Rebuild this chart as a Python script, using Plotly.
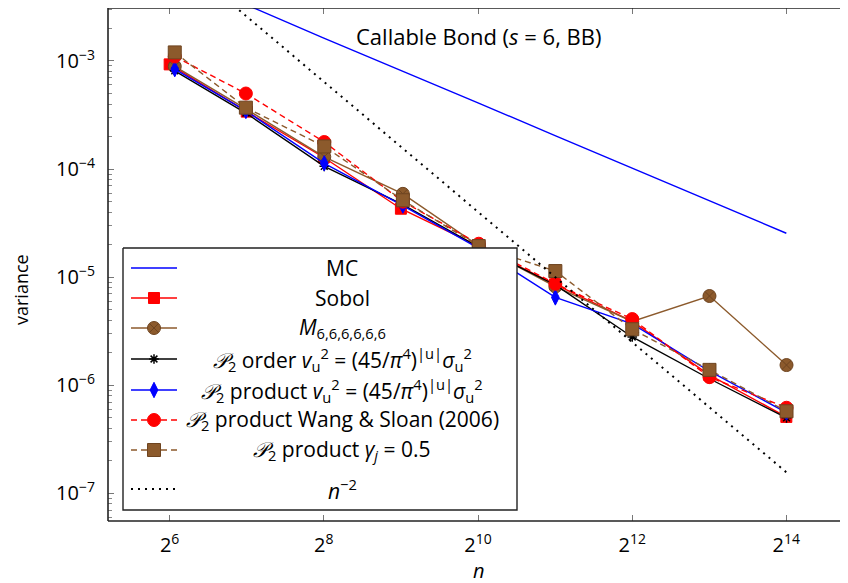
import math
import plotly.graph_objects as go

# ---------------- data ----------------
n_sobol = [64, 128, 256, 512, 1024, 2048, 4096, 8192, 16384]
n_lattice = [67, 127, 257, 521, 1031, 2053, 4099, 8209, 16411]

mc = [6.5e-3, 3.3e-3, 1.63e-3, 8.2e-4, 4.1e-4, 2.04e-4, 1.02e-4, 5.1e-5, 2.55e-5]
sobol = [9.3e-4, 3.4e-4, 1.28e-4, 4.3e-5, 1.95e-5, 8.6e-6, 3.9e-6, 1.25e-6, 5.1e-7]
m6 = [8.9e-4, 3.6e-4, 1.3e-4, 5.9e-5, 1.95e-5, 8.2e-6, 3.9e-6, 6.7e-6, 1.54e-6]
p2_order = [8.1e-4, 3.3e-4, 1.06e-4, 4.7e-5, 1.9e-5, 8.5e-6, 2.8e-6, 1.15e-6, 5.0e-7]
p2_product = [8.4e-4, 3.45e-4, 1.13e-4, 4.6e-5, 1.85e-5, 6.5e-6, 3.7e-6, 1.35e-6, 5.6e-7]
wang_sloan = [1.1e-3, 5.0e-4, 1.78e-4, 5.0e-5, 2.04e-5, 8.7e-6, 4.1e-6, 1.19e-6, 6.2e-7]
gamma05 = [1.2e-3, 3.7e-4, 1.62e-4, 5.15e-5, 1.94e-5, 1.14e-5, 3.3e-6, 1.39e-6, 5.75e-7]
n_minus2 = [1.03e-2, 2.57e-3, 6.4e-4, 1.6e-4, 4.0e-5, 1.0e-5, 2.5e-6, 6.3e-7, 1.57e-7]

x_tickvals = [64, 256, 1024, 4096, 16384]
x_ticktext = ["2<sup>6</sup>", "2<sup>8</sup>", "2<sup>10</sup>", "2<sup>12</sup>", "2<sup>14</sup>"]
y_tickvals = [1e-7, 1e-6, 1e-5, 1e-4, 1e-3]
y_ticktext = ["10<sup>−7</sup>", "10<sup>−6</sup>", "10<sup>−5</sup>", "10<sup>−4</sup>", "10<sup>−3</sup>"]
y_minor = [m * 10.0 ** e for e in range(-8, -2) for m in range(2, 10)]

legend_labels = [
    "MC",
    "Sobol",
    "<i>M</i><sub>6,6,6,6,6,6</sub>",
    "<i>𝒫</i><sub>2</sub> order <i>v</i><sub>u</sub><sup>2</sup> = (45/<i>π</i><sup>4</sup>)<sup>|u|</sup><i>σ</i><sub>u</sub><sup>2</sup>",
    "<i>𝒫</i><sub>2</sub> product <i>v</i><sub>u</sub><sup>2</sup> = (45/<i>π</i><sup>4</sup>)<sup>|u|</sup><i>σ</i><sub>u</sub><sup>2</sup>",
    "<i>𝒫</i><sub>2</sub> product Wang &amp; Sloan (2006)",
    "<i>𝒫</i><sub>2</sub> product <i>γ</i><sub><i>j</i></sub> = 0.5",
    "<i>n</i><sup>−2</sup>",
]

# ---------------- styles ----------------
RED = "#ff0000"
BLUE = "#0000ff"
BROWN = "#8c5a2c"
BROWN_DARK = "#6e4420"
FONT = "Open Sans"

styles = [
    dict(color=BLUE, dash="solid", symbol=None),
    dict(color=RED, dash="solid", symbol="square", size=11, mcolor=RED, mline=RED),
    dict(color=BROWN, dash="solid", symbol="circle-x", size=13, mcolor=BROWN, mline=BROWN_DARK),
    dict(color="black", dash="solid", symbol="asterisk-open", size=8, mcolor="black", mline="black"),
    dict(color=BLUE, dash="solid", symbol="diamond-tall", size=11, mcolor=BLUE, mline=BLUE),
    dict(color=RED, dash="6px,4px", symbol="circle", size=13, mcolor=RED, mline=RED),
    dict(color=BROWN, dash="6px,4px", symbol="square", size=13, mcolor=BROWN, mline=BROWN_DARK),
    dict(color="black", dash="2px,5px", symbol=None, width=2),
]

series = [
    (n_sobol, mc),
    (n_sobol, sobol),
    (n_lattice, m6),
    (n_lattice, p2_order),
    (n_lattice, p2_product),
    (n_lattice, wang_sloan),
    (n_lattice, gamma05),
    (n_sobol, n_minus2),
]

# page geometry (the page body has an 8px margin, so the figure is offset by 8px)
OFF = 8
W, H = 848 - OFF, 583 - OFF
# plot area in page pixels
L, R, T, B = 108, 848, 8, 521

fig = go.Figure()


def marker_dict(st):
    if st["symbol"] is None:
        return None
    return dict(symbol=st["symbol"], size=st["size"], color=st["mcolor"],
                line=dict(color=st["mline"], width=1.5 if "asterisk" in st["symbol"] else 1))


for (xs, ys), st in zip(series, styles):
    mode = "lines" if st["symbol"] is None else "lines+markers"
    fig.add_trace(go.Scatter(
        x=xs, y=ys, mode=mode,
        line=dict(color=st["color"], width=st.get("width", 1.4), dash=st["dash"]),
        marker=marker_dict(st),
        showlegend=False, cliponaxis=True, hoverinfo="skip",
    ))

# ---------------- legend drawn on an overlay axis in page pixel coords ----------------
lg_left, lg_right, lg_top, lg_bot = 123, 517, 248, 510
row_y = [268, 298, 328, 359, 390, 420, 450, 489]
sample_x0, sample_x1 = 131, 177
text_cx = 342

fig.add_trace(go.Scatter(
    x=[lg_left, lg_right, lg_right, lg_left, lg_left],
    y=[lg_top, lg_top, lg_bot, lg_bot, lg_top],
    xaxis="x2", yaxis="y2", mode="lines", fill="toself",
    fillcolor="white", line=dict(color="#222222", width=1.4),
    showlegend=False, hoverinfo="skip",
))
for ry, st in zip(row_y, styles):
    fig.add_trace(go.Scatter(
        x=[sample_x0, sample_x1], y=[ry, ry], xaxis="x2", yaxis="y2", mode="lines",
        line=dict(color=st["color"], width=st.get("width", 1.4), dash=st["dash"]),
        showlegend=False, hoverinfo="skip",
    ))
    if st["symbol"] is not None:
        fig.add_trace(go.Scatter(
            x=[(sample_x0 + sample_x1) / 2], y=[ry], xaxis="x2", yaxis="y2", mode="markers",
            marker=marker_dict(st), showlegend=False, hoverinfo="skip",
        ))

annotations = []
for ry, lab in zip(row_y, legend_labels):
    annotations.append(dict(x=text_cx, y=ry, xref="x2", yref="y2", text=lab, showarrow=False,
                            xanchor="center", yanchor="middle",
                            font=dict(family=FONT, size=21, color="black")))

# title inside plot
annotations.append(dict(x=479, y=36, xref="x2", yref="y2",
                        text="Callable Bond (<i>s</i> = 6, BB)", showarrow=False,
                        xanchor="center", yanchor="middle",
                        font=dict(family=FONT, size=22, color="black")))
# axis titles
annotations.append(dict(x=(21 - L) / (R - L), y=(B - 290) / (B - T), xref="paper", yref="paper",
                        text="variance", showarrow=False, textangle=-90,
                        xanchor="center", yanchor="middle",
                        font=dict(family=FONT, size=18, color="black")))
annotations.append(dict(x=(479 - L) / (R - L), y=(B - 570) / (B - T), xref="paper", yref="paper",
                        text="<i>n</i>", showarrow=False, xanchor="center", yanchor="middle",
                        font=dict(family=FONT, size=20, color="black")))

xr = [5.2 * math.log10(2), 14.8 * math.log10(2)]
yr = [-7.255, -2.51]

fig.update_layout(
    width=W, height=H,
    margin=dict(l=L - OFF, r=848 - R, t=T - OFF, b=583 - B, pad=0, autoexpand=False),
    paper_bgcolor="white", plot_bgcolor="white",
    showlegend=False,
    xaxis=dict(type="log", range=xr, tickvals=x_tickvals, ticktext=x_ticktext,
               ticks="inside", ticklen=6, tickwidth=1, tickcolor="#777777", automargin=False,
               showgrid=False, zeroline=False, showline=False, mirror="allticks",
               tickfont=dict(family=FONT, size=20, color="black"), ticklabelstandoff=10),
    yaxis=dict(type="log", range=yr, tickvals=y_tickvals, ticktext=y_ticktext,
               ticks="inside", ticklen=6, tickwidth=1, tickcolor="#777777", automargin=False,
               showgrid=False, zeroline=False, showline=False, mirror="allticks",
               minor=dict(tickvals=y_minor, ticks="inside", ticklen=3.5, tickcolor="#888888",
                          tickwidth=1, showgrid=False),
               tickfont=dict(family=FONT, size=20, color="black"), ticklabelstandoff=12),
    xaxis2=dict(range=[L, R], overlaying="x", visible=False, fixedrange=True, automargin=False),
    yaxis2=dict(range=[B, T], overlaying="y", visible=False, fixedrange=True, automargin=False),
    annotations=annotations,
    shapes=[
        dict(type="line", xref="paper", yref="paper", x0=0, x1=0, y0=0, y1=1,
             line=dict(color="#222222", width=1.6)),
        dict(type="line", xref="paper", yref="paper", x0=0, x1=1, y0=1, y1=1,
             line=dict(color="#222222", width=1.6)),
        dict(type="line", xref="paper", yref="paper", x0=0, x1=1, y0=0, y1=0,
             line=dict(color="#222222", width=1.6)),
    ],
)

fig.write_html("out.html")
